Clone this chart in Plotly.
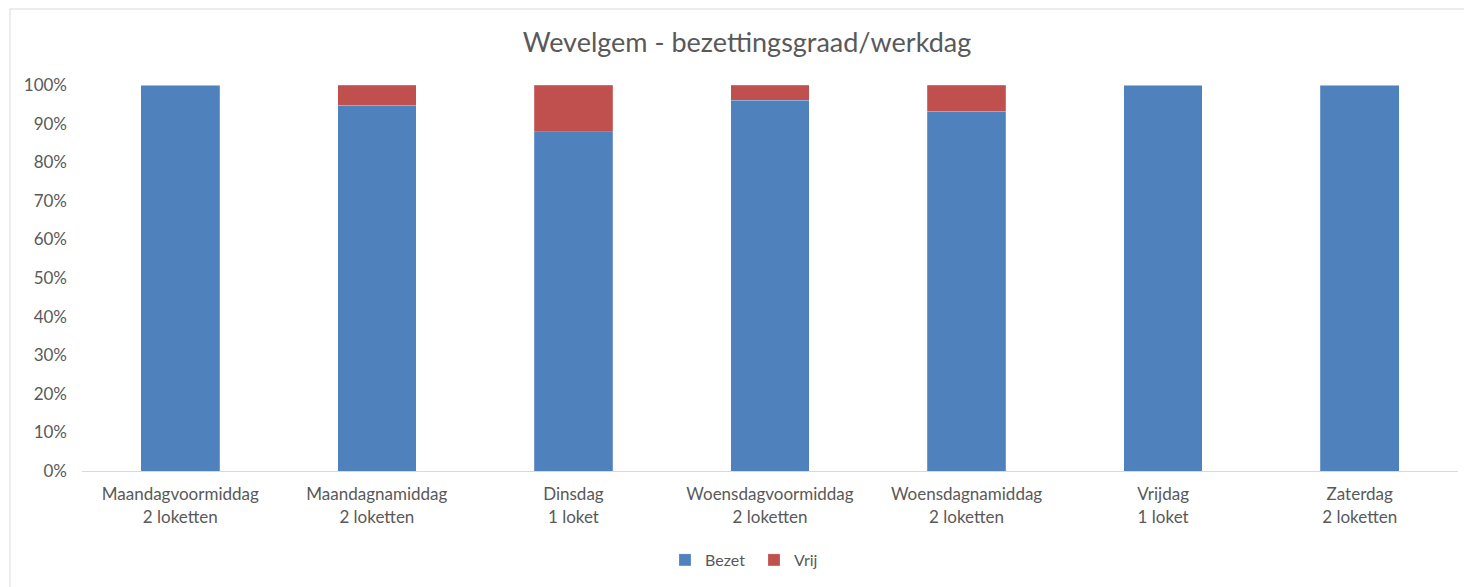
import plotly.graph_objects as go

categories = [
    "Maandagvoormiddag<br>2 loketten",
    "Maandagnamiddag<br>2 loketten",
    "Dinsdag<br>1 loket",
    "Woensdagvoormiddag<br>2 loketten",
    "Woensdagnamiddag<br>2 loketten",
    "Vrijdag<br>1 loket",
    "Zaterdag<br>2 loketten",
]
bezet = [100, 94.8, 87.9, 96.0, 93.2, 100, 100]
vrij = [0, 5.2, 12.1, 4.0, 6.8, 0, 0]

BLUE = "#4F81BD"
RED = "#C0504D"
TEXT = "#595959"
FONT = "Lato, 'Open Sans', sans-serif"

fig = go.Figure()
fig.add_trace(go.Bar(x=categories, y=bezet, name="Bezet", marker_color=BLUE,
                     marker_line=dict(color="rgba(255,255,255,0.4)", width=0.5)))
fig.add_trace(go.Bar(x=categories, y=vrij, name="Vrij", marker_color=RED,
                     marker_line=dict(color="rgba(255,255,255,0.4)", width=0.5)))

fig.update_layout(
    barmode="stack",
    bargap=0.6,
    width=1464,
    height=587,
    margin=dict(l=82, r=6, t=85, b=116),
    paper_bgcolor="white",
    plot_bgcolor="white",
    font=dict(family=FONT, color=TEXT, size=17),
    title=dict(text="Wevelgem - bezettingsgraad/werkdag", xref="container",
               x=747 / 1464, xanchor="center",
               y=1 - 43 / 587, yanchor="middle",
               font=dict(size=27, color=TEXT, family=FONT)),
    legend=dict(orientation="h", x=(754 - 82) / 1376, xanchor="center",
                y=-(560 - 471) / 386, yanchor="middle",
                font=dict(size=16, color=TEXT), traceorder="normal",
                entrywidth=44, itemwidth=30),
    showlegend=True,
)
fig.update_xaxes(showline=True, linecolor="#d9d9d9", linewidth=1, showgrid=False,
                 ticks="", tickfont=dict(size=17, color=TEXT), ticklabelstandoff=8)
fig.update_yaxes(range=[0, 100], dtick=10, ticksuffix="%", showgrid=False,
                 zeroline=False, showline=False, tickfont=dict(size=17, color=TEXT),
                 ticklabelstandoff=14)

# outer chart border (Excel-style frame)
fig.add_shape(type="rect", xref="paper", yref="paper",
              x0=(10 - 82) / 1376, x1=1.1, y0=-0.5, y1=(471 - 9) / 386,
              line=dict(color="#d9d9d9", width=1), layer="below")

# drop the browser's default body margin so the figure sits at (0, 0)
fig.write_html("out.html", config={"displayModeBar": False},
               post_script="document.body.style.margin='0';")
